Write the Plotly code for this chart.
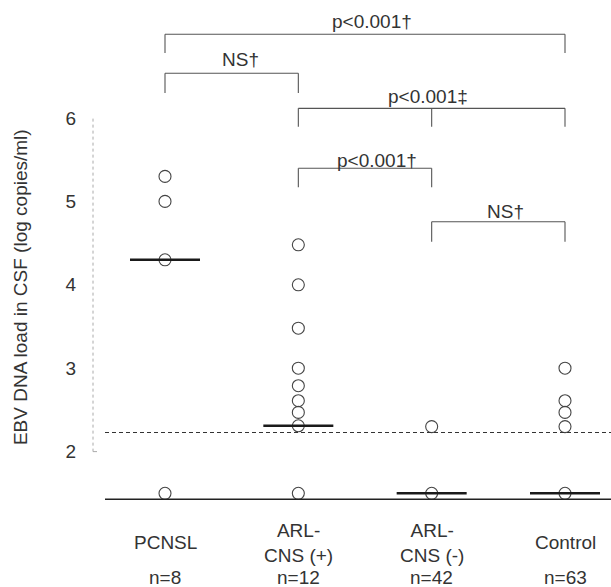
import plotly.graph_objects as go

# ---------------- data ----------------
categories = ["PCNSL", "ARL-<br>CNS (+)", "ARL-<br>CNS (-)", "Control"]
n_labels = ["n=8", "n=12", "n=42", "n=63"]
pcnsl = [5.3, 5.0, 4.3, 1.5]
arl_pos = [4.48, 4.0, 3.48, 3.0, 2.79, 2.61, 2.47, 2.31, 1.5]
arl_neg = [2.3, 1.5]
control = [3.0, 2.61, 2.47, 2.3, 1.5]
medians = [4.3, 2.31, 1.5, 1.5]
cutoff = 2.23          # dashed line
floor_value = 1.43     # solid base line
y_ticks = [2, 3, 4, 5, 6]

# comparisons: (x positions of bracket feet, bracket top, foot bottom, label, label x, label y)
brackets = [
    ([0, 3], 7.004, 6.779, "p<0.001†", 1.55, 7.16),
    ([0, 1], 6.536, 6.300, "NS†", 0.5625, 6.70),
    ([1, 2, 3], 6.116, 5.896, "p<0.001‡", 1.97, 6.26),
    ([1, 2], 5.397, 5.169, "p<0.001†", 1.5875, 5.49),
    ([2, 3], 4.757, 4.517, "NS†", 2.55, 4.885),
]

groups = [pcnsl, arl_pos, arl_neg, control]

FONT = "Liberation Sans, Arial, sans-serif"
TXT = "#333333"

fig = go.Figure()

# points
for i, vals in enumerate(groups):
    fig.add_trace(go.Scatter(
        x=[i] * len(vals), y=vals, mode="markers",
        marker=dict(symbol="circle-open", size=12, color="#444444",
                    line=dict(width=1.1, color="#444444")),
        showlegend=False, hoverinfo="y"))

# medians
fig.add_trace(go.Scatter(
    x=list(range(len(medians))), y=medians, mode="markers",
    marker=dict(symbol="line-ew-open", size=50, color="#1a1a1a",
                line=dict(width=2.6, color="#1a1a1a")),
    showlegend=False, hoverinfo="y"))

shapes = []
# cutoff dashed line & base line
shapes.append(dict(type="line", xref="x", yref="y", x0=-0.45, x1=3.4,
                   y0=cutoff, y1=cutoff,
                   line=dict(color="#333333", width=1.1, dash="4px,3px")))
shapes.append(dict(type="line", xref="x", yref="y", x0=-0.45, x1=3.4,
                   y0=floor_value, y1=floor_value,
                   line=dict(color="#222222", width=1.5)))
# y axis line (dotted, from 2 to 6)
shapes.append(dict(type="line", xref="paper", yref="y", x0=0, x1=0,
                   y0=y_ticks[0], y1=y_ticks[-1],
                   line=dict(color="#aaaaaa", width=1, dash="dot")))
shapes.append(dict(type="line", xref="x", yref="y", x0=-0.54, x1=-0.51,
                   y0=y_ticks[0], y1=y_ticks[0],
                   line=dict(color="#aaaaaa", width=1)))

annotations = []
for feet, top, bottom, label, lx, ly in brackets:
    shapes.append(dict(type="line", xref="x", yref="y", x0=feet[0], x1=feet[-1],
                       y0=top, y1=top, line=dict(color="#555555", width=1.1)))
    for f in feet:
        shapes.append(dict(type="line", xref="x", yref="y", x0=f, x1=f,
                           y0=top, y1=bottom, line=dict(color="#555555", width=1.1)))
    annotations.append(dict(x=lx, y=ly, xref="x", yref="y", text=label,
                            showarrow=False, xanchor="center", yanchor="middle",
                            font=dict(family=FONT, size=19, color=TXT)))

for i, (c, nl) in enumerate(zip(categories, n_labels)):
    annotations.append(dict(x=i, y=-0.0647, xref="x", yref="paper", text=c,
                            showarrow=False, xanchor="center", yanchor="middle",
                            font=dict(family="Liberation Sans Narrow, " + FONT, size=19, color=TXT)))
    annotations.append(dict(x=i, y=-0.1314, xref="x", yref="paper", text=nl,
                            showarrow=False, xanchor="center", yanchor="middle",
                            font=dict(family="Liberation Sans Narrow, " + FONT, size=19, color=TXT)))

annotations.append(dict(x=-0.141, y=0.437, xref="paper", yref="paper",
                        text="EBV DNA load in CSF (log copies/ml)", textangle=-90,
                        showarrow=False, xanchor="center", yanchor="middle",
                        font=dict(family=FONT, size=19, color=TXT)))

fig.update_layout(
    width=611, height=587,
    margin=dict(l=93, r=0, t=0, b=77),
    paper_bgcolor="white", plot_bgcolor="white",
    shapes=shapes, annotations=annotations,
    xaxis=dict(range=[-0.54, 3.345], showgrid=False, zeroline=False,
               showticklabels=False, showline=False, ticks=""),
    yaxis=dict(range=[1.300, 7.415], showgrid=False, zeroline=False,
               tickvals=y_ticks, ticktext=[str(v) for v in y_ticks],
               ticks="", showline=False, ticklabelstandoff=16,
               tickfont=dict(family=FONT, size=19, color=TXT)),
)

fig.write_html("out.html")
